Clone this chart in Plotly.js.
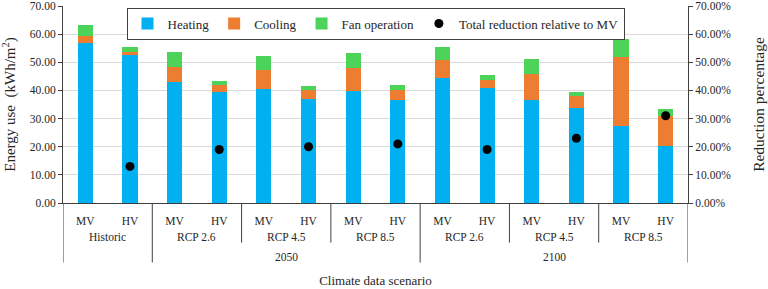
<!DOCTYPE html>
<html>
<head>
<meta charset="utf-8">
<script src="https://cdn.plot.ly/plotly-3.0.1.min.js"></script>
<style>html,body{margin:0;padding:0;background:#fff;}#chart{width:768px;height:289px;}</style>
</head>
<body>
<div id="chart"></div>
<script>
// ---- data ----
const variants = ['MV','HV','MV','HV','MV','HV','MV','HV','MV','HV','MV','HV','MV','HV'];
const scenarios = ['Historic','RCP 2.6','RCP 4.5','RCP 8.5','RCP 2.6','RCP 4.5','RCP 8.5'];
const periods = ['', '2050', '2050', '2050', '2100', '2100', '2100'];
const heating = [56.9, 52.5, 43.0, 39.5, 40.4, 37.1, 39.8, 36.5, 44.5, 41.0, 36.6, 33.6, 27.2, 20.4];
const cooling = [2.3, 1.3, 5.5, 2.3, 6.7, 3.2, 8.3, 3.8, 6.3, 2.8, 9.1, 4.4, 24.6, 10.6];
const fan = [4.2, 1.6, 5.0, 1.7, 5.0, 1.4, 5.3, 1.8, 4.8, 1.8, 5.4, 1.4, 6.6, 2.3];
const reduction = [null, 0.13, null, 0.19, null, 0.20, null, 0.21, null, 0.19, null, 0.23, null, 0.31];
const yTicks = [0, 10, 20, 30, 40, 50, 60, 70];

const FONT = 'Liberation Serif';
const TXT = '#262626';
const xIdx = variants.map((_, i) => i);

const traces = [
  {type:'bar', name:'Heating', x:xIdx, y:heating, marker:{color:'#00B0F0'}, width:0.34},
  {type:'bar', name:'Cooling', x:xIdx, y:cooling, marker:{color:'#ED7D31'}, width:0.34},
  {type:'bar', name:'Fan operation', x:xIdx, y:fan, marker:{color:'#4CD45A'}, width:0.34},
  {type:'scatter', mode:'markers', name:'Total reduction relative to MV', x:xIdx, y:reduction, yaxis:'y2',
   marker:{color:'#000000', size:9}}
];

// group separators and labels derived from the category arrays
const shapes = [];
const annotations = [];
const perGroup = variants.length / scenarios.length;
const lineCol = '#404040';
for (let g = 0; g <= scenarios.length; g++) {
  const xb = g * perGroup - 0.5;
  const prev = periods[g - 1], next = periods[g];
  const long = (g === 0 || g === scenarios.length || prev !== next);
  shapes.push({type:'line', xref:'x', yref:'paper', x0:xb, x1:xb, y0:0, y1: long ? -0.302 : -0.201,
    line:{color:lineCol, width:1}});
}
scenarios.forEach((s, g) => {
  annotations.push({xref:'x', yref:'paper', x: g * perGroup + (perGroup - 1) / 2, y:-0.174,
    text:s, showarrow:false, yanchor:'middle', font:{family:FONT, size:11.5, color:TXT}});
});
const uniqPeriods = [...new Set(periods.filter(p => p))];
uniqPeriods.forEach(p => {
  const idx = periods.map((q, i) => q === p ? i : -1).filter(i => i >= 0);
  const first = idx[0] * perGroup, last = idx[idx.length - 1] * perGroup + perGroup - 1;
  annotations.push({xref:'x', yref:'paper', x:(first + last) / 2, y:-0.274,
    text:p, showarrow:false, yanchor:'middle', font:{family:FONT, size:11.5, color:TXT}});
});

const layout = {
  width:768, height:289,
  margin:{l:63, r:80, t:6, b:86, pad:0},
  paper_bgcolor:'#fff', plot_bgcolor:'#fff',
  font:{family:FONT, size:11.5, color:TXT},
  barmode:'stack',
  showlegend:true,
  legend:{orientation:'h', x:0.5, y:0.992, xanchor:'center', yanchor:'top',
    bordercolor:'#404040', borderwidth:1, bgcolor:'#fff',
    font:{family:FONT, size:13, color:TXT}, traceorder:'normal', itemwidth:30},
  xaxis:{range:[-0.5, 13.5], tickmode:'array', tickvals:xIdx, ticktext:variants,
    showgrid:false, zeroline:false, showline:true, linecolor:lineCol, linewidth:1,
    ticks:'', tickfont:{family:FONT, size:11.5, color:TXT}, automargin:false, ticklabelstandoff:7,
    title:{text:'Climate data scenario', font:{family:FONT, size:13, color:TXT}, standoff:50}},
  yaxis:{range:[0, 70], tickmode:'array', tickvals:yTicks, tickformat:'.2f',
    showgrid:true, gridcolor:'#D9D9D9', gridwidth:1, zeroline:false,
    showline:true, linecolor:lineCol, linewidth:1, ticks:'outside', ticklen:4, tickcolor:lineCol,
    tickfont:{family:FONT, size:11.5, color:TXT}, automargin:false, ticklabeloverflow:'allow',
    title:{text:'Energy use  (kWh/m<sup>2</sup>)', font:{family:FONT, size:15, color:TXT}, standoff:14}},
  yaxis2:{overlaying:'y', side:'right', range:[0, 0.7], tickmode:'array',
    tickvals:yTicks.map(v => v / 100), tickformat:'.2%',
    showgrid:false, zeroline:false, showline:true, linecolor:lineCol, linewidth:1,
    ticks:'outside', ticklen:4, tickcolor:lineCol, ticklabeloverflow:'allow',
    tickfont:{family:FONT, size:11.5, color:TXT}, automargin:false,
    title:{text:'Reduction percentage', font:{family:FONT, size:15.5, color:TXT}, standoff:22}},
  shapes:shapes,
  annotations:annotations
};

Plotly.newPlot('chart', traces, layout, {displayModeBar:false, staticPlot:true});
</script>
</body>
</html>
